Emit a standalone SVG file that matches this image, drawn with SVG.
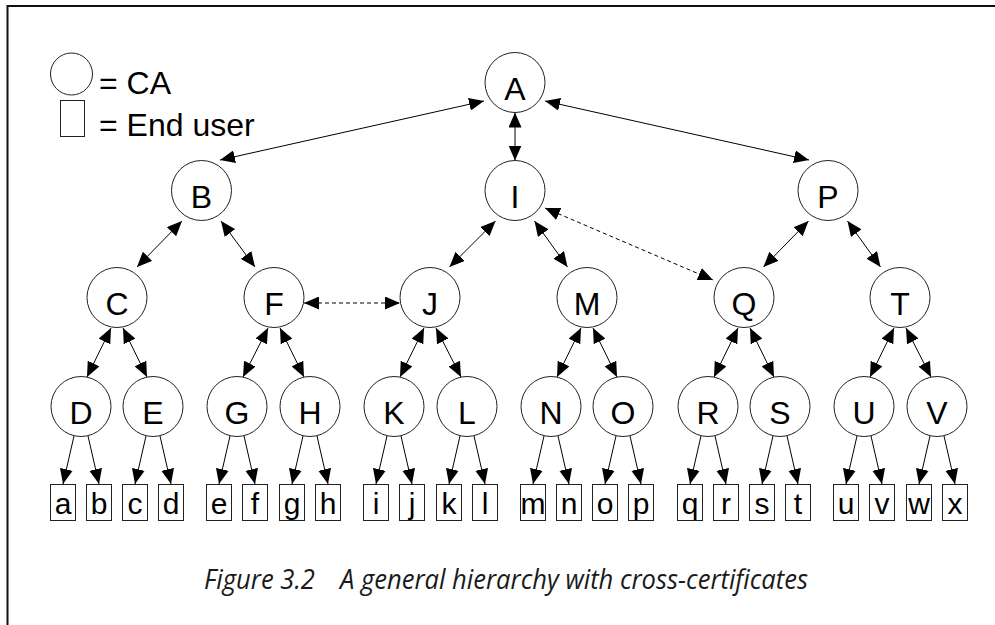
<svg xmlns="http://www.w3.org/2000/svg" width="995" height="625" viewBox="0 0 995 625">
<style>
.ca{fill:#fff;stroke:#222;stroke-width:1}
.eu{fill:#fff;stroke:#222;stroke-width:1}
.lb{font-family:"Liberation Sans",Arial,sans-serif;font-size:32px;fill:#000;text-anchor:middle}
.lf{font-family:"Liberation Sans",Arial,sans-serif;font-size:30px;fill:#000;text-anchor:middle}
.lg{font-family:"Liberation Sans",Arial,sans-serif;font-size:32px;fill:#000}
.e{stroke:#000;stroke-width:1;fill:none}
.d2{marker-start:url(#ah);marker-end:url(#ah)}
.d1{marker-end:url(#ah)}
.dash{stroke-dasharray:4 3}
.cap{font-family:"Open Sans","Noto Sans",sans-serif;font-style:italic;font-size:28px;fill:#1a1a1a}
</style>
<defs>
<marker id="ah" markerUnits="userSpaceOnUse" markerWidth="15" markerHeight="13" refX="15" refY="6.5" orient="auto-start-reverse" viewBox="0 0 15 13">
<path d="M0,0 L15,6.5 L0,13 z" fill="#000"/>
</marker>
</defs>
<rect width="995" height="625" fill="#fff"/>
<g id="frame" stroke="#111" stroke-width="2" fill="none">
<path d="M7,6 H995"/>
<path d="M7.5,5 V625"/>
</g>
<g id="legend">
<circle class="ca" cx="71.5" cy="74" r="21"/>
<text class="lg" x="99" y="94">= CA</text>
<rect class="eu" x="60.5" y="100.5" width="24" height="36"/>
<text class="lg" x="99" y="136">= End user</text>
</g>
<g id="connectors">
<line class="e d2" x1="515" y1="112.5" x2="515" y2="160.5"/>
<line class="e d2" x1="484" y1="101" x2="220" y2="160"/>
<line class="e d2" x1="545" y1="101" x2="809" y2="160"/>
<line class="e d2" x1="182" y1="221" x2="137" y2="267"/>
<line class="e d2" x1="221" y1="221" x2="255" y2="267"/>
<line class="e d2" x1="495.5" y1="221" x2="449.5" y2="267"/>
<line class="e d2" x1="534.5" y1="221" x2="567.5" y2="267"/>
<line class="e d2" x1="808.5" y1="221" x2="763.5" y2="267"/>
<line class="e d2" x1="847.5" y1="221" x2="880.5" y2="267"/>
<line class="e d2 dash" x1="304" y1="303" x2="400" y2="303"/>
<line class="e d2 dash" x1="545" y1="208" x2="713" y2="280"/>
<line class="e d2" x1="111" y1="328" x2="87" y2="377"/>
<line class="e d2" x1="123" y1="328" x2="147" y2="377"/>
<line class="e d2" x1="268" y1="328" x2="243" y2="377"/>
<line class="e d2" x1="280" y1="328" x2="304" y2="377"/>
<line class="e d2" x1="424" y1="328" x2="400" y2="377"/>
<line class="e d2" x1="436" y1="328" x2="461" y2="377"/>
<line class="e d2" x1="581" y1="328" x2="557" y2="377"/>
<line class="e d2" x1="593" y1="328" x2="617" y2="377"/>
<line class="e d2" x1="738" y1="328" x2="714" y2="377"/>
<line class="e d2" x1="750" y1="328" x2="774" y2="377"/>
<line class="e d2" x1="894" y1="328" x2="870" y2="377"/>
<line class="e d2" x1="906" y1="328" x2="931" y2="377"/>
<line class="e d1" x1="74" y1="436" x2="63" y2="484"/>
<line class="e d1" x1="88" y1="436" x2="99" y2="484"/>
<line class="e d1" x1="146" y1="436" x2="135" y2="484"/>
<line class="e d1" x1="160" y1="436" x2="171" y2="484"/>
<line class="e d1" x1="230" y1="436" x2="219" y2="484"/>
<line class="e d1" x1="244" y1="436" x2="255" y2="484"/>
<line class="e d1" x1="303" y1="436" x2="292" y2="484"/>
<line class="e d1" x1="317" y1="436" x2="328" y2="484"/>
<line class="e d1" x1="387" y1="436" x2="376" y2="484"/>
<line class="e d1" x1="401" y1="436" x2="412" y2="484"/>
<line class="e d1" x1="460" y1="436" x2="449" y2="484"/>
<line class="e d1" x1="474" y1="436" x2="485" y2="484"/>
<line class="e d1" x1="544" y1="436" x2="533" y2="484"/>
<line class="e d1" x1="558" y1="436" x2="569" y2="484"/>
<line class="e d1" x1="616" y1="436" x2="605" y2="484"/>
<line class="e d1" x1="630" y1="436" x2="641" y2="484"/>
<line class="e d1" x1="701" y1="436" x2="690" y2="484"/>
<line class="e d1" x1="715" y1="436" x2="726" y2="484"/>
<line class="e d1" x1="773" y1="436" x2="762" y2="484"/>
<line class="e d1" x1="787" y1="436" x2="798" y2="484"/>
<line class="e d1" x1="857" y1="436" x2="846" y2="484"/>
<line class="e d1" x1="871" y1="436" x2="882" y2="484"/>
<line class="e d1" x1="930" y1="436" x2="919" y2="484"/>
<line class="e d1" x1="944" y1="436" x2="955" y2="484"/>
</g>
<g id="A"><circle class="ca" cx="515" cy="82.5" r="30"/><text class="lb" x="515" y="100">A</text></g>
<g id="B"><circle class="ca" cx="201.5" cy="190.5" r="30"/><text class="lb" x="201.5" y="207.5">B</text></g>
<g id="I"><circle class="ca" cx="515" cy="190.5" r="30"/><text class="lb" x="515" y="207.5">I</text></g>
<g id="P"><circle class="ca" cx="828" cy="190.5" r="30"/><text class="lb" x="828" y="207.5">P</text></g>
<g id="C"><circle class="ca" cx="117" cy="297.5" r="30"/><text class="lb" x="117" y="314.5">C</text></g>
<g id="F"><circle class="ca" cx="274" cy="297.5" r="30"/><text class="lb" x="274" y="314.5">F</text></g>
<g id="J"><circle class="ca" cx="430" cy="297.5" r="30"/><text class="lb" x="430" y="314.5">J</text></g>
<g id="M"><circle class="ca" cx="587" cy="297.5" r="30"/><text class="lb" x="587" y="314.5">M</text></g>
<g id="Q"><circle class="ca" cx="744" cy="297.5" r="30"/><text class="lb" x="744" y="314.5">Q</text></g>
<g id="T"><circle class="ca" cx="900" cy="297.5" r="30"/><text class="lb" x="900" y="314.5">T</text></g>
<g id="D"><circle class="ca" cx="81" cy="406.5" r="30"/><text class="lb" x="81" y="423.5">D</text></g>
<g id="E"><circle class="ca" cx="153" cy="406.5" r="30"/><text class="lb" x="153" y="423.5">E</text></g>
<g id="G"><circle class="ca" cx="237" cy="406.5" r="30"/><text class="lb" x="237" y="423.5">G</text></g>
<g id="H"><circle class="ca" cx="310" cy="406.5" r="30"/><text class="lb" x="310" y="423.5">H</text></g>
<g id="K"><circle class="ca" cx="394" cy="406.5" r="30"/><text class="lb" x="394" y="423.5">K</text></g>
<g id="L"><circle class="ca" cx="467" cy="406.5" r="30"/><text class="lb" x="467" y="423.5">L</text></g>
<g id="N"><circle class="ca" cx="551" cy="406.5" r="30"/><text class="lb" x="551" y="423.5">N</text></g>
<g id="O"><circle class="ca" cx="623" cy="406.5" r="30"/><text class="lb" x="623" y="423.5">O</text></g>
<g id="R"><circle class="ca" cx="708" cy="406.5" r="30"/><text class="lb" x="708" y="423.5">R</text></g>
<g id="S"><circle class="ca" cx="780" cy="406.5" r="30"/><text class="lb" x="780" y="423.5">S</text></g>
<g id="U"><circle class="ca" cx="864" cy="406.5" r="30"/><text class="lb" x="864" y="423.5">U</text></g>
<g id="V"><circle class="ca" cx="937" cy="406.5" r="30"/><text class="lb" x="937" y="423.5">V</text></g>
<g id="leaf-a"><rect class="eu" x="50.5" y="484.5" width="25" height="36"/><text class="lf" x="63" y="514">a</text></g>
<g id="leaf-b"><rect class="eu" x="86.5" y="484.5" width="25" height="36"/><text class="lf" x="99" y="514">b</text></g>
<g id="leaf-c"><rect class="eu" x="122.5" y="484.5" width="25" height="36"/><text class="lf" x="135" y="514">c</text></g>
<g id="leaf-d"><rect class="eu" x="158.5" y="484.5" width="25" height="36"/><text class="lf" x="171" y="514">d</text></g>
<g id="leaf-e"><rect class="eu" x="206.5" y="484.5" width="25" height="36"/><text class="lf" x="219" y="514">e</text></g>
<g id="leaf-f"><rect class="eu" x="242.5" y="484.5" width="25" height="36"/><text class="lf" x="255" y="514">f</text></g>
<g id="leaf-g"><rect class="eu" x="279.5" y="484.5" width="25" height="36"/><text class="lf" x="292" y="514">g</text></g>
<g id="leaf-h"><rect class="eu" x="315.5" y="484.5" width="25" height="36"/><text class="lf" x="328" y="514">h</text></g>
<g id="leaf-i"><rect class="eu" x="363.5" y="484.5" width="25" height="36"/><text class="lf" x="376" y="514">i</text></g>
<g id="leaf-j"><rect class="eu" x="399.5" y="484.5" width="25" height="36"/><text class="lf" x="412" y="514">j</text></g>
<g id="leaf-k"><rect class="eu" x="436.5" y="484.5" width="25" height="36"/><text class="lf" x="449" y="514">k</text></g>
<g id="leaf-l"><rect class="eu" x="472.5" y="484.5" width="25" height="36"/><text class="lf" x="485" y="514">l</text></g>
<g id="leaf-m"><rect class="eu" x="520.5" y="484.5" width="25" height="36"/><text class="lf" x="533" y="514">m</text></g>
<g id="leaf-n"><rect class="eu" x="556.5" y="484.5" width="25" height="36"/><text class="lf" x="569" y="514">n</text></g>
<g id="leaf-o"><rect class="eu" x="592.5" y="484.5" width="25" height="36"/><text class="lf" x="605" y="514">o</text></g>
<g id="leaf-p"><rect class="eu" x="628.5" y="484.5" width="25" height="36"/><text class="lf" x="641" y="514">p</text></g>
<g id="leaf-q"><rect class="eu" x="677.5" y="484.5" width="25" height="36"/><text class="lf" x="690" y="514">q</text></g>
<g id="leaf-r"><rect class="eu" x="713.5" y="484.5" width="25" height="36"/><text class="lf" x="726" y="514">r</text></g>
<g id="leaf-s"><rect class="eu" x="749.5" y="484.5" width="25" height="36"/><text class="lf" x="762" y="514">s</text></g>
<g id="leaf-t"><rect class="eu" x="785.5" y="484.5" width="25" height="36"/><text class="lf" x="798" y="514">t</text></g>
<g id="leaf-u"><rect class="eu" x="833.5" y="484.5" width="25" height="36"/><text class="lf" x="846" y="514">u</text></g>
<g id="leaf-v"><rect class="eu" x="869.5" y="484.5" width="25" height="36"/><text class="lf" x="882" y="514">v</text></g>
<g id="leaf-w"><rect class="eu" x="906.5" y="484.5" width="25" height="36"/><text class="lf" x="919" y="514">w</text></g>
<g id="leaf-x"><rect class="eu" x="942.5" y="484.5" width="25" height="36"/><text class="lf" x="955" y="514">x</text></g>
<g id="caption">
<text class="cap" y="589"><tspan x="204" textLength="111" lengthAdjust="spacingAndGlyphs">Figure 3.2</tspan><tspan x="340" textLength="468" lengthAdjust="spacingAndGlyphs">A general hierarchy with cross-certificates</tspan></text>
</g>
</svg>
